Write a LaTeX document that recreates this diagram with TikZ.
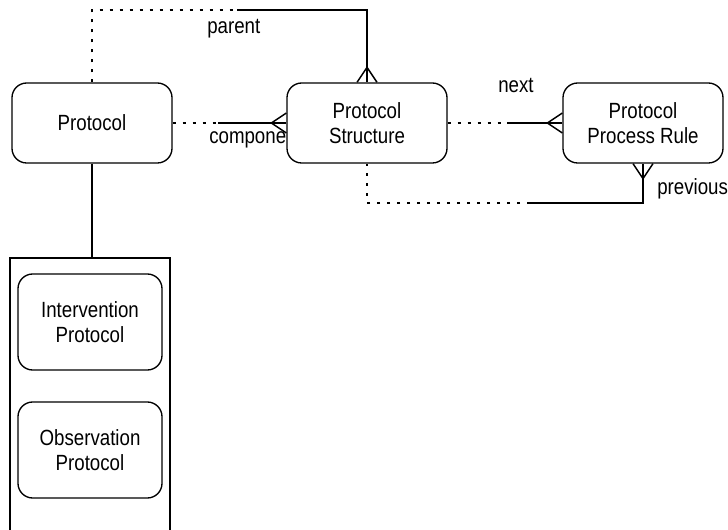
\documentclass[tikz,border=0pt]{standalone}
\usepackage{fontspec}
\setmainfont{Liberation Sans}[FakeStretch=0.85]
\usetikzlibrary{positioning,calc,backgrounds}

\begin{document}
\begin{tikzpicture}[x=0.75pt, y=-0.75pt,
  entity/.style={rectangle, rounded corners=11pt, draw, line width=1pt, fill=white, minimum width=120pt, minimum height=60pt, align=center, font=\fontsize{16.5}{19}\selectfont},
  subent/.style={entity, minimum width=108pt, minimum height=72pt},
  rel/.style={line width=1.1pt},
  opt/.style={line width=1.6pt, dash pattern=on 2.2pt off 5.3pt},
  lbl/.style={anchor=base west, inner sep=0pt, font=\fontsize{16.5}{19}\selectfont}
]
  \useasboundingbox (0,0) rectangle (728,530);
  \node[entity] (proto)  at (92,123)  {Protocol};
  \node[entity] (struct) at (367,123) {Protocol\\Structure};
  \node[entity] (rule)   at (643,123) {Protocol\\Process Rule};
  \node[subent] (interv) at (90,322)  {Intervention\\Protocol};
  \node[subent] (observ) at (90,450)  {Observation\\Protocol};
  \coordinate (grp) at (92,258);
  \begin{scope}[on background layer]
    \draw[opt] (proto.north) |- (237,10) coordinate (parmid);
    \draw[rel] (parmid) -| (struct.north);
    \draw[rel] ($(struct.north)+(-10,0)$) -- ($(struct.north)+(0,-15)$) -- ($(struct.north)+(10,0)$);
    \node[lbl] (parlbl) at (207,34) {parent};
    \draw[opt] (proto.east) -- (218,123) coordinate (cmpmid);
    \draw[rel] (cmpmid) -- (struct.west);
    \draw[rel] ($(struct.west)+(0,-10)$) -- ($(struct.west)+(-15,0)$) -- ($(struct.west)+(0,10)$);
    \node[lbl] (cmplbl) at (209,144) {component};
    \draw[opt] (struct.east) -- (507,123) coordinate (nxtmid);
    \draw[rel] (nxtmid) -- (rule.west);
    \draw[rel] ($(rule.west)+(0,-10)$) -- ($(rule.west)+(-15,0)$) -- ($(rule.west)+(0,10)$);
    \node[lbl] (nxtlbl) at (498,93) {next};
    \draw[rel] (rule.south) |- (530,203) coordinate (prvmid);
    \draw[opt] (prvmid) -| (struct.south);
    \draw[rel] ($(rule.south)+(-10,0)$) -- ($(rule.south)+(0,15)$) -- ($(rule.south)+(10,0)$);
    \node[lbl] (prvlbl) at (657,195) {previous};
    \draw[rel] (proto.south) -- (grp);
    \draw[line width=0.9pt] (10,530) -- (10,258) -- (170,258) -- (170,530);
  \end{scope}
\end{tikzpicture}
\end{document}
